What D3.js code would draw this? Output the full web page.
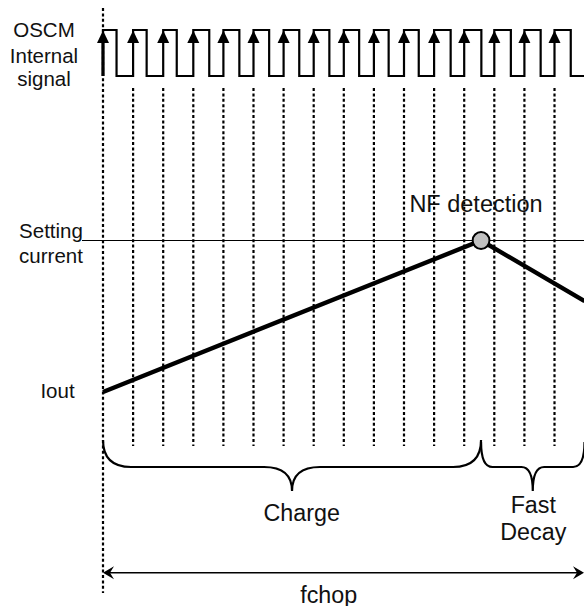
<!DOCTYPE html>
<html>
<head>
<meta charset="utf-8">
<script src="https://cdn.jsdelivr.net/npm/d3@7"></script>
<style>
  html, body { margin: 0; padding: 0; background: #fff; }
  svg text { font-family: "Liberation Sans", Arial, sans-serif; fill: #111; }
</style>
</head>
<body>
<svg id="chart" width="584" height="606"></svg>
<script>
// ---- data (clock-cycle units) ----
const risingEdges  = [0,1,2,3,4,5,6,7,8,9,10,11,12,13,14,15];
const fallingEdges = [0.45,1.45,2.45,3.53,4.53,5.52,6.52,7.52,8.51,9.49,10.49,11.55,12.57,13.55,14.54,15.54];
const signalEnd = 16;
// Iout waveform: time (cycles), level (0 = Iout start, 1 = setting current)
const ioutTime  = [0, 12.56, 16];
const ioutLevel = [0, 1, 0.6];
const nfDetect = { t: 12.56, level: 1 };
const settingLevel = 1;
const braces = [
  { from: 0, to: 12.56, label: ["Charge"] },
  { from: 12.56, to: 16, label: ["Fast", "Decay"] }
];
const leftLabels = [
  { lines: ["OSCM", "Internal", "signal"] },
  { lines: ["Setting", "current"] },
  { lines: ["Iout"] }
];

// ---- scales ----
const svg = d3.select("#chart");
const x = d3.scaleLinear().domain([0, 16]).range([103, 584.6]);
const ySig = d3.scaleLinear().domain([0, 1]).range([76, 30]);
const yI = d3.scaleLinear().domain([0, 1]).range([392, 240.5]);

// ---- dotted guide lines ----
svg.selectAll("line.guide").data(risingEdges).join("line")
  .attr("x1", d => x(d)).attr("x2", d => x(d))
  .attr("y1", d => d === 0 ? 8 : 88)
  .attr("y2", d => d === 0 ? 593 : 446)
  .attr("stroke", "#000").attr("stroke-width", 2.2)
  .attr("stroke-dasharray", "3,2.4");

// ---- square wave ----
const pts = [];
risingEdges.forEach((r, i) => {
  pts.push([r, 0], [r, 1], [fallingEdges[i], 1], [fallingEdges[i], 0]);
});
pts.push([signalEnd, 0]);
svg.append("path")
  .attr("d", d3.line().x(d => x(d[0])).y(d => ySig(d[1]))(pts))
  .attr("fill", "none").attr("stroke", "#000").attr("stroke-width", 2.2)
  .attr("stroke-linejoin", "miter");

// arrowheads on rising edges
svg.selectAll("path.arr").data(risingEdges).join("path")
  .attr("d", d => {
    const cx = x(d), ty = ySig(1) + 0.5;
    return `M${cx},${ty} L${cx - 6},${ty + 12.5} L${cx + 6},${ty + 12.5} Z`;
  })
  .attr("fill", "#000");
// first edge bold
svg.append("line")
  .attr("x1", x(0)).attr("x2", x(0)).attr("y1", ySig(0)).attr("y2", ySig(1) + 8)
  .attr("stroke", "#000").attr("stroke-width", 3.2);

// ---- setting current line ----
svg.append("line")
  .attr("x1", 82).attr("x2", 584)
  .attr("y1", yI(settingLevel)).attr("y2", yI(settingLevel))
  .attr("stroke", "#000").attr("stroke-width", 1.1);

// ---- Iout line ----
svg.append("path")
  .attr("d", d3.line().x((d, i) => x(ioutTime[i])).y((d, i) => yI(ioutLevel[i]))(ioutTime))
  .attr("fill", "none").attr("stroke", "#000").attr("stroke-width", 4.4)
  .attr("stroke-linejoin", "miter");

svg.append("circle")
  .attr("cx", x(nfDetect.t)).attr("cy", yI(nfDetect.level)).attr("r", 8.4)
  .attr("fill", "#c0c0c0").attr("stroke", "#000").attr("stroke-width", 2);

svg.append("text")
  .attr("x", 476).attr("y", 212).attr("text-anchor", "middle")
  .attr("font-size", 23.5).text("NF detection");

// ---- braces ----
function bracePath(x0, x1, yTop, yMid, yTip, r) {
  const xm = (x0 + x1) / 2;
  return `M${x0},${yTop} Q${x0},${yMid} ${x0 + r},${yMid} L${xm - r},${yMid} Q${xm},${yMid} ${xm},${yTip}` +
         ` Q${xm},${yMid} ${xm + r},${yMid} L${x1 - r},${yMid} Q${x1},${yMid} ${x1},${yTop}`;
}
braces.forEach((b, k) => {
  const x0 = x(b.from), x1 = Math.min(x(b.to), 584.5);
  const r = Math.min(28, (x1 - x0) * 0.11);
  svg.append("path")
    .attr("d", bracePath(x0, x1, k === 0 ? 440 : 442, 467, 491, r))
    .attr("fill", "none").attr("stroke", "#000").attr("stroke-width", 2.2);
});
svg.append("text").attr("x", 301.7).attr("y", 521).attr("text-anchor", "middle")
  .attr("font-size", 23.3).text(braces[0].label[0]);
braces[1].label.forEach((t, i) => {
  svg.append("text").attr("x", 533.3).attr("y", 513 + i * 27).attr("text-anchor", "middle")
    .attr("font-size", 23.3).text(t);
});

// ---- fchop arrow ----
const yA = 572.7;
svg.append("line").attr("x1", x(0) + 4).attr("x2", 580).attr("y1", yA).attr("y2", yA)
  .attr("stroke", "#000").attr("stroke-width", 1.6);
function head(tipX, dir) {
  return `M${tipX},${yA} L${tipX - dir * 11},${yA - 6.5} L${tipX - dir * 7},${yA} L${tipX - dir * 11},${yA + 6.5} Z`;
}
svg.append("path").attr("d", head(x(0), -1)).attr("fill", "#000");
svg.append("path").attr("d", head(584, 1)).attr("fill", "#000");
svg.append("text").attr("x", 328.7).attr("y", 602.5).attr("text-anchor", "middle")
  .attr("font-size", 23.3).text("fchop");

// ---- left labels ----
const leftPos = [
  { x: 44, y: [37.3, 62.8, 86.3] },
  { x: 51, y: [237.7, 263.3] },
  { x: 57.5, y: [398.3] }
];
leftLabels.forEach((l, k) => {
  l.lines.forEach((t, i) => {
    svg.append("text").attr("x", leftPos[k].x).attr("y", leftPos[k].y[i])
      .attr("text-anchor", "middle").attr("font-size", 20.5).text(t);
  });
});
</script>
</body>
</html>
